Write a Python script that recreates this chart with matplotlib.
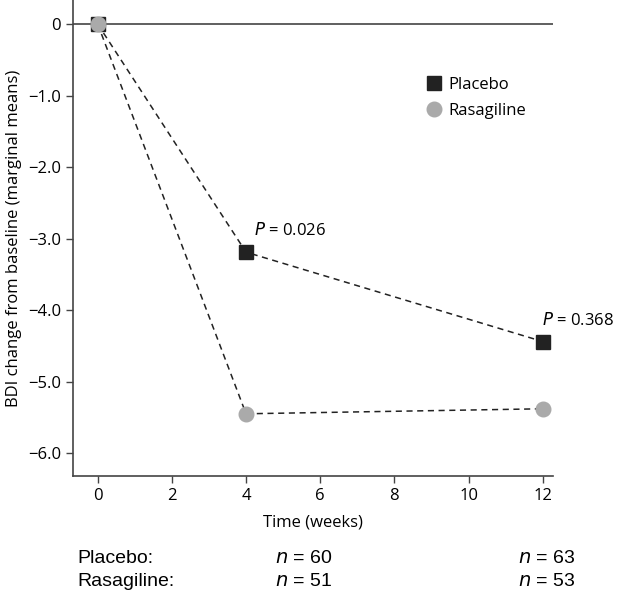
import matplotlib
matplotlib.use("Agg")
import matplotlib.pyplot as plt
import numpy as np

# data
weeks = [0, 4, 12]
placebo = [0.0, -3.19, -4.44]
rasagiline = [0.0, -5.45, -5.38]
p_labels = ["0.026", "0.368"]
n_placebo = ["60", "63"]
n_rasagiline = ["51", "53"]

plt.rcParams['font.family'] = ['Open Sans', 'DejaVu Sans']

fig = plt.figure(figsize=(6.17, 5.95), dpi=100)
ax = fig.add_axes([0.118, 0.2, 0.778, 0.8])

ax.axhline(0, color='#444444', lw=1.2, zorder=1)
ax.plot(weeks, placebo, ls=(0, (4, 3)), color='#222222', lw=1.1, zorder=2)
ax.plot(weeks, rasagiline, ls=(0, (4, 3)), color='#222222', lw=1.1, zorder=2)
ax.plot(weeks, placebo, 's', ms=10, color='#222222', zorder=3, label='Placebo')
ax.plot(weeks, rasagiline, 'o', ms=10.5, color='#aaaaaa', mec='#aaaaaa', zorder=4, label='Rasagiline')

# P values next to the placebo points
for wk, val, p, dx in zip(weeks[1:], placebo[1:], p_labels, [0.22, -0.03]):
    ax.text(wk + dx, val + 0.3, r'$P$ = ' + p, fontsize=12, ha='left', va='center')

ax.set_xlim(-0.67, 12.27)
ax.set_ylim(-6.32, 0.336)
ax.set_xticks(range(0, 13, 2))
ax.set_yticks(np.arange(0, -6.5, -1))
ax.set_yticklabels(['0'] + ['\u2212%.1f' % k for k in range(1, 7)])
ax.tick_params(labelsize=12, length=5, width=1, color='#444444')
for s in ['top', 'right']:
    ax.spines[s].set_visible(False)
for s in ['left', 'bottom']:
    ax.spines[s].set_color('#444444')
    ax.spines[s].set_linewidth(1.2)
ax.set_xlabel('Time (weeks)', fontsize=12, labelpad=8)
ax.set_ylabel('BDI change from baseline (marginal means)', fontsize=12)

ax.legend(loc='upper left', bbox_to_anchor=(0.7, 0.87), frameon=False, fontsize=12,
          handletextpad=0.3, labelspacing=0.62, handlelength=1.2)

# sample sizes under the axis
fs = 14
fig.text(77 / 617, 1 - 563 / 595, 'Placebo:', fontsize=fs, family='Liberation Sans', va='baseline')
fig.text(77 / 617, 1 - 586 / 595, 'Rasagiline:', fontsize=fs, family='Liberation Sans', va='baseline')
for col, x in enumerate([275, 518]):
    fig.text(x / 617, 1 - 563 / 595, r'$n$ = ' + n_placebo[col], fontsize=fs,
             family='Liberation Sans', va='baseline')
    fig.text(x / 617, 1 - 586 / 595, r'$n$ = ' + n_rasagiline[col], fontsize=fs,
             family='Liberation Sans', va='baseline')

fig.savefig('out.png', dpi=100)
